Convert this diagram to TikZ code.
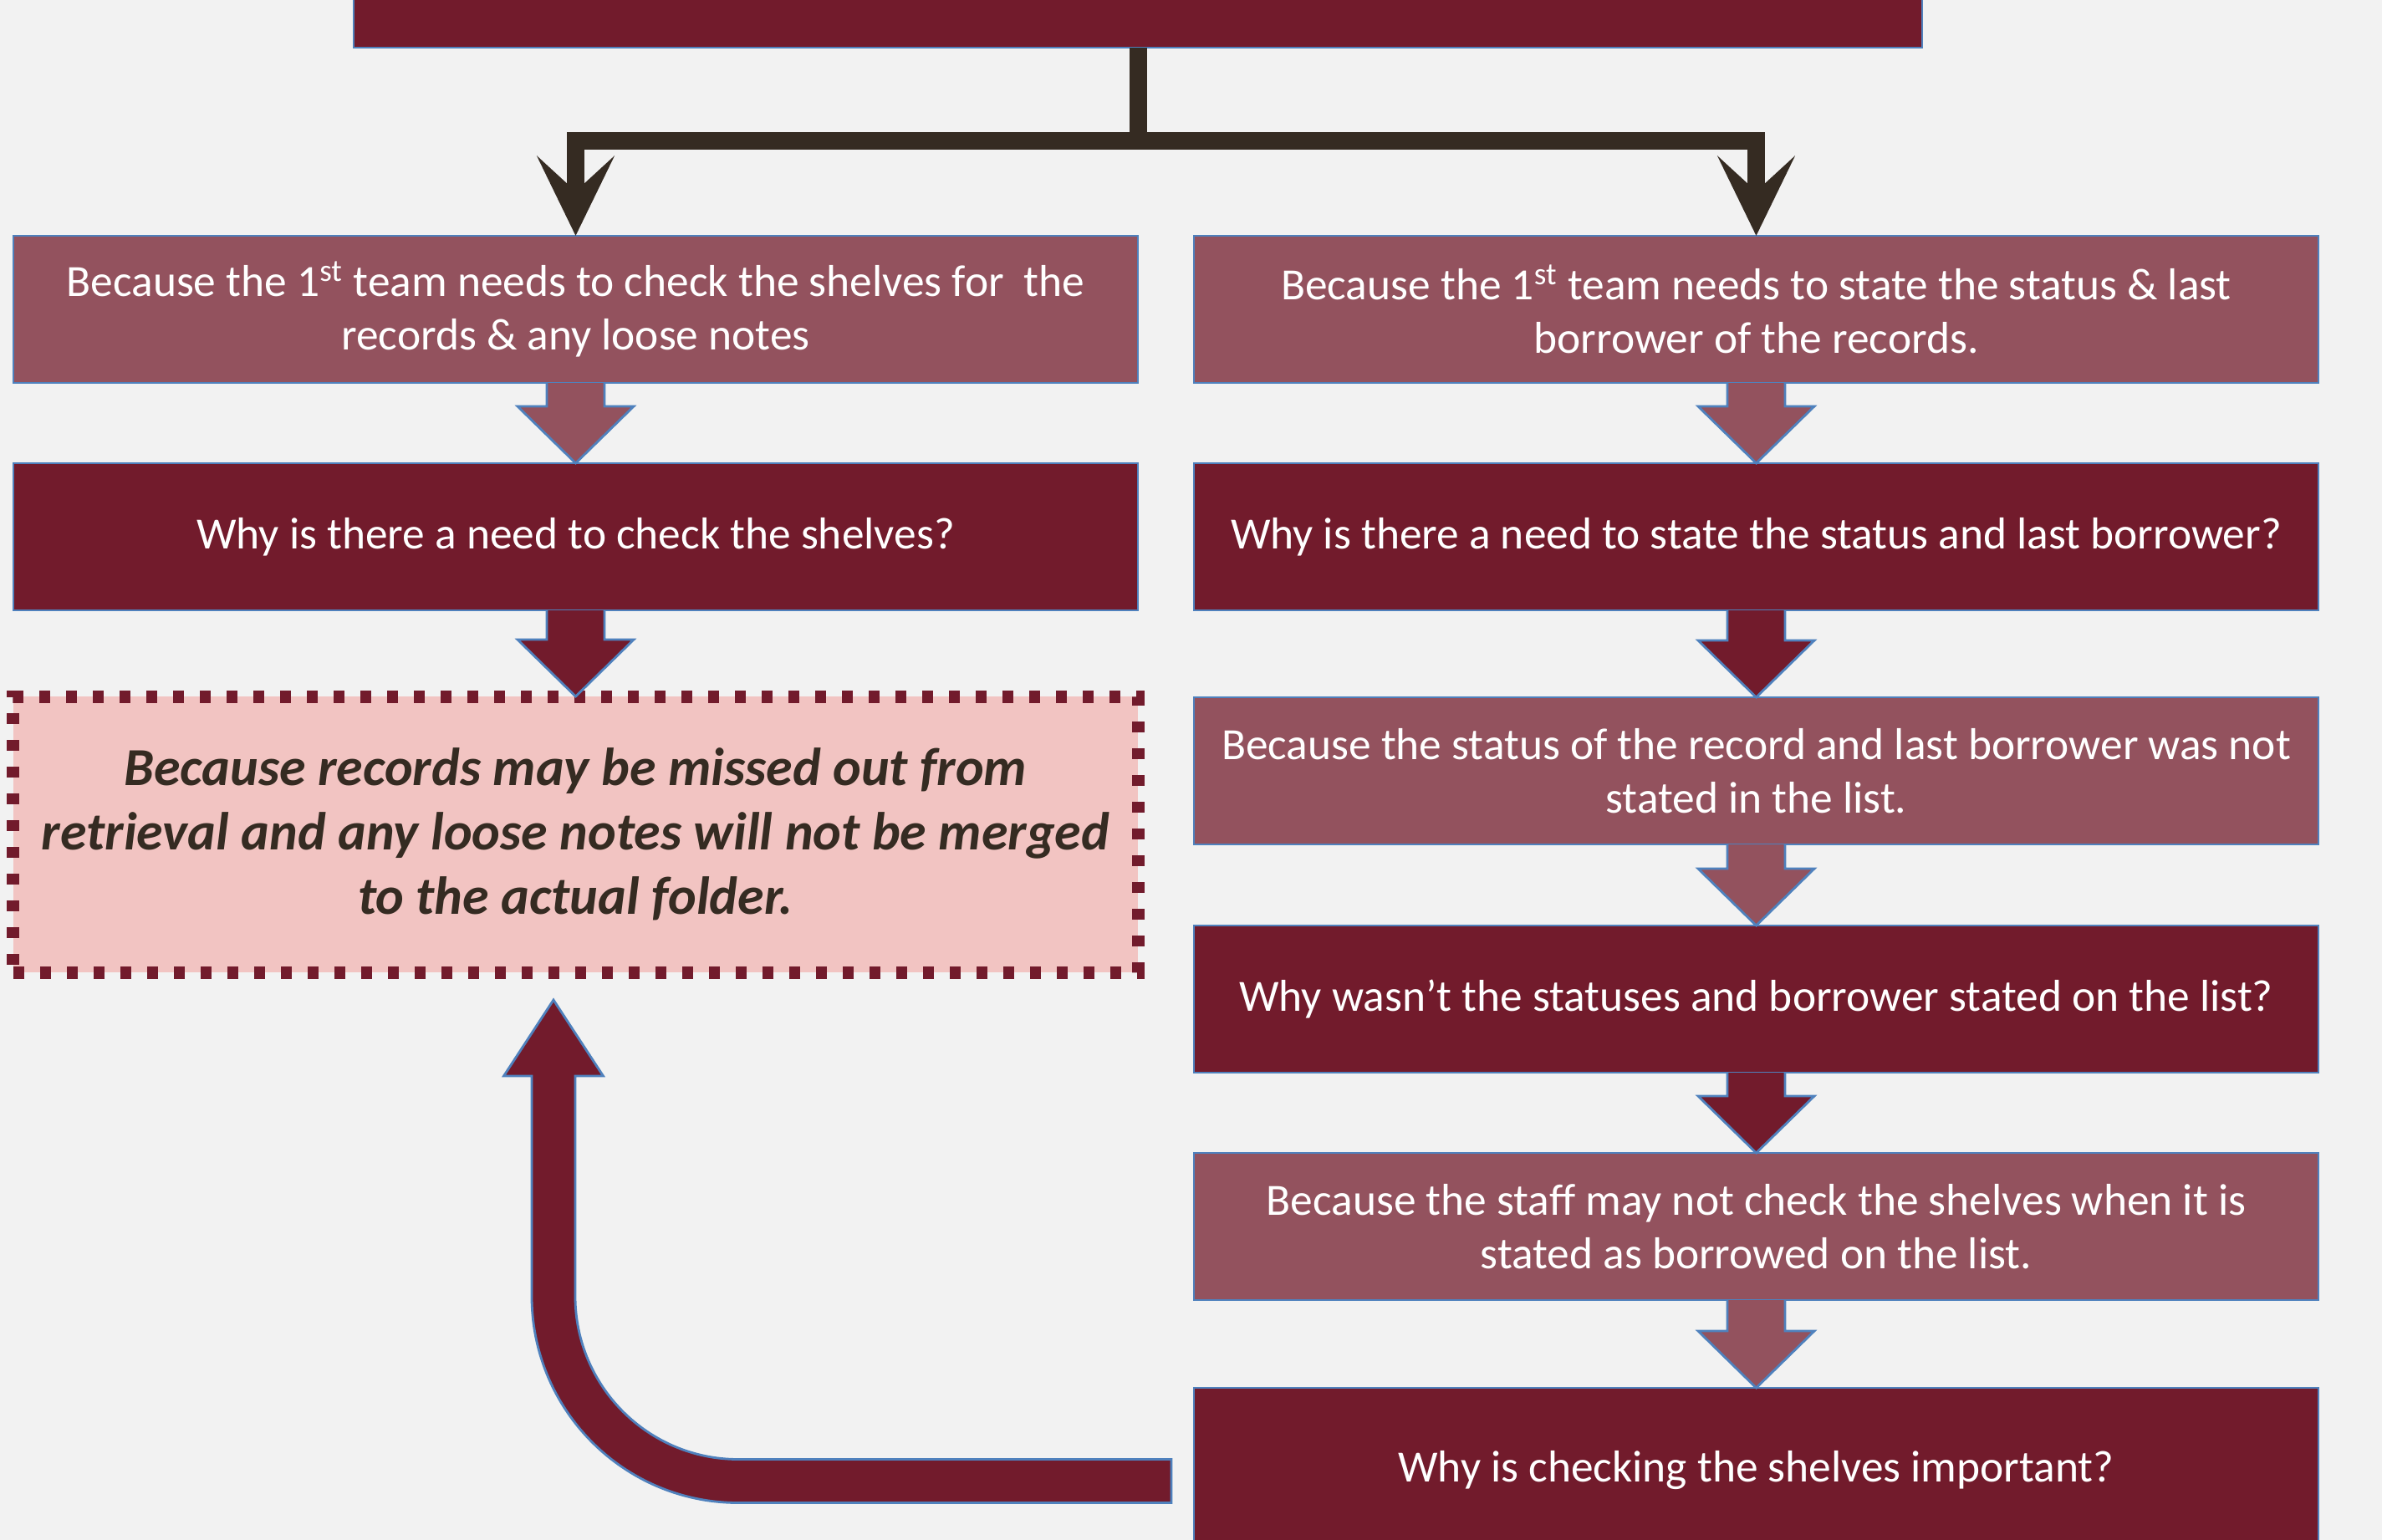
\documentclass[tikz,border=0pt]{standalone}
\usepackage{fontspec}
\setmainfont{Carlito}
\usetikzlibrary{positioning,calc,arrows.meta}

\definecolor{maroondark}{RGB}{114,27,44}
\definecolor{maroonlight}{RGB}{147,82,94}
\definecolor{notepink}{RGB}{242,196,194}
\definecolor{bggrey}{RGB}{242,242,242}
\definecolor{connbrown}{RGB}{53,43,34}
\definecolor{edgeblue}{RGB}{79,129,189}

\tikzset{
  whybox/.style={draw=edgeblue,line width=0.8pt,minimum width=13.45cm,minimum height=1.76cm,
    align=center,text=white,font=\fontsize{15.2}{18.3}\selectfont,inner sep=0pt,outer sep=0pt},
  lightbox/.style={whybox,fill=maroonlight},
  darkbox/.style={whybox,fill=maroondark},
  notebox/.style={draw=maroondark,line width=0.15cm,dash pattern=on 0.13cm off 0.19cm,
    fill=notepink,minimum width=13.45cm,minimum height=3.30cm,align=center,text=connbrown,
    font=\fontsize{18.2}{21.9}\selectfont\bfseries\itshape,inner sep=0pt,outer sep=0pt},
  conn/.style={draw=connbrown,line width=0.21cm,-{Stealth[length=0.95cm,width=0.92cm,inset=0.42cm]}},
  blockarrow/.style={draw=edgeblue,line width=0.8pt,line join=miter}
}

% block arrow from box #1 down to box #2, filled with #3
\newcommand{\whyarrow}[3]{%
  \draw[blockarrow,fill=#3] ($(#1.south)+(-0.345,0)$) -- ($(#2.north)+(-0.345,0.68)$)
    -- ++(-0.35,0) -- (#2.north) -- ++(0.695,0.68) -- ++(-0.35,0) -- ($(#1.south)+(0.345,0)$);}

\begin{document}
\begin{tikzpicture}
  \useasboundingbox (0,0) rectangle (28.49,-18.42);
  \clip (0,0) rectangle (28.49,-18.42);
  \fill[bggrey] (0,0) rectangle (28.49,-18.42);

  \node[darkbox,minimum width=18.76cm,minimum height=1.5cm] (top) at (13.61,0.18) {};

  % left column
  \node[lightbox] (a1) at (6.885,-3.70) {Because the 1\textsuperscript{st} team needs to check the shelves for~ the\\records \& any loose notes};
  \node[darkbox,below=0.96cm of a1] (a2) {Why is there a need to check the shelves?};
  \node[notebox,below=1.03cm of a2] (pink) {Because records may be missed out from\\retrieval and any loose notes will not be merged\\to the actual folder.};

  % right column
  \node[lightbox] (r1) at (21.005,-3.70) {Because the 1\textsuperscript{st} team needs to state the status \& last\\borrower of the records.};
  \node[darkbox,below=0.96cm of r1] (r2) {Why is there a need to state the status and last borrower?};
  \node[lightbox,below=1.04cm of r2] (r3) {Because the status of the record and last borrower was not\\stated in the list.};
  \node[darkbox,below=0.97cm of r3] (r4) {Why wasn’t the statuses and borrower stated on the list?};
  \node[lightbox,below=0.96cm of r4] (r5) {Because the staff may not check the shelves when it is\\stated as borrowed on the list.};
  \node[darkbox,below=1.05cm of r5,minimum height=1.98cm] (r6) {Why is checking the shelves important?};

  % fork from the top box
  \coordinate[below=1.12cm of top] (fork);
  \draw[conn] (top.south) -- (fork) -| (a1.north);
  \draw[conn] (fork) -| (r1.north);

  \whyarrow{a1}{a2}{maroonlight}
  \whyarrow{a2}{pink}{maroondark}
  \whyarrow{r1}{r2}{maroonlight}
  \whyarrow{r2}{r3}{maroondark}
  \whyarrow{r3}{r4}{maroonlight}
  \whyarrow{r4}{r5}{maroondark}
  \whyarrow{r5}{r6}{maroonlight}

  % bent arrow back to the note
  \coordinate (loopend) at ($(r6.west)+(-0.27,-0.125)$);
  \coordinate (looptip) at ($(pink.south)+(-0.265,-0.33)$);
  \coordinate (loopcorner) at (looptip |- loopend);
  \draw[blockarrow,fill=maroondark] ($(loopend)+(0,-0.26)$) -- ($(loopcorner)+(2.21,-0.26)$)
    arc[start angle=270,end angle=180,radius=2.47]
    -- ($(looptip)+(-0.26,-0.91)$) -- ++(-0.335,0) -- (looptip) -- ++(0.595,-0.91) -- ++(-0.335,0)
    -- ($(loopcorner)+(0.26,2.21)$)
    arc[start angle=180,end angle=270,radius=1.95]
    -- ($(loopend)+(0,0.26)$) -- cycle;
\end{tikzpicture}
\end{document}
